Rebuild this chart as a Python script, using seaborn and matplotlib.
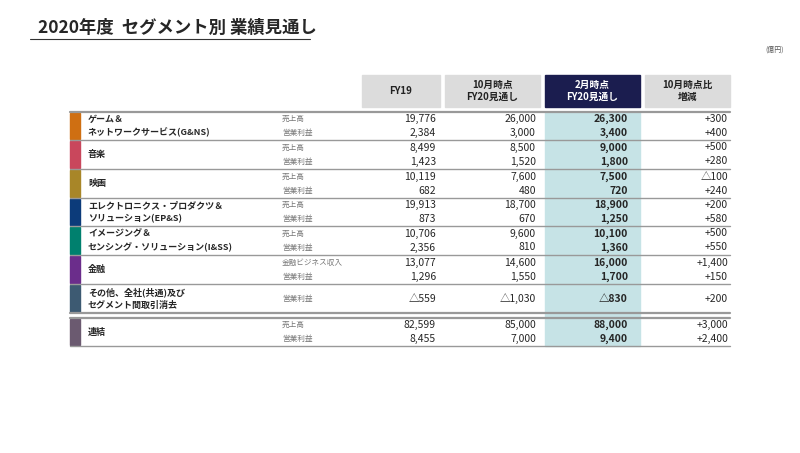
import matplotlib.pyplot as plt
from matplotlib.patches import Rectangle
import seaborn as sns

sns.set_theme(style='white', font='Noto Sans CJK JP')

title = "2020年度  セグメント別 業績見通し"
unit = "(億円)"
headers = ["FY19", "10月時点\nFY20見通し", "2月時点\nFY20見通し", "10月時点比\n増減"]
segments = ["ゲーム＆\nネットワークサービス(G&NS)", "音楽", "映画",
            "エレクトロニクス・プロダクツ＆\nソリューション(EP&S)",
            "イメージング＆\nセンシング・ソリューション(I&SS)", "金融",
            "その他、全社(共通)及び\nセグメント間取引消去", "連結"]
seg_colors = ["#cf6f12", "#c9475c", "#a88628", "#0c3b7a", "#00806e",
              "#6b2d8b", "#3d5a72", "#6b5a70"]
sub_labels = [["売上高", "営業利益"], ["売上高", "営業利益"], ["売上高", "営業利益"],
              ["売上高", "営業利益"], ["売上高", "営業利益"], ["金融ビジネス収入", "営業利益"],
              ["営業利益"], ["売上高", "営業利益"]]
fy19 = [["19,776", "2,384"], ["8,499", "1,423"], ["10,119", "682"], ["19,913", "873"],
        ["10,706", "2,356"], ["13,077", "1,296"], ["△559"], ["82,599", "8,455"]]
oct_fc = [["26,000", "3,000"], ["8,500", "1,520"], ["7,600", "480"], ["18,700", "670"],
          ["9,600", "810"], ["14,600", "1,550"], ["△1,030"], ["85,000", "7,000"]]
feb_fc = [["26,300", "3,400"], ["9,000", "1,800"], ["7,500", "720"], ["18,900", "1,250"],
          ["10,100", "1,360"], ["16,000", "1,700"], ["△830"], ["88,000", "9,400"]]
diff = [["+300", "+400"], ["+500", "+280"], ["△100", "+240"], ["+200", "+580"],
        ["+500", "+550"], ["+1,400", "+150"], ["+200"], ["+3,000", "+2,400"]]

bounds = [112, 140, 169, 198, 226, 255, 284, 313, 318, 346]

fig = plt.figure(figsize=(8, 4.53), dpi=100)
ax = fig.add_axes([0, 0, 1, 1])
ax.set_xlim(0, 800)
ax.set_ylim(453, 0)
ax.axis('off')

ax.text(38, 28, title, fontsize=12.5, fontweight='bold', va='center', ha='left')
ax.plot([30, 310], [39, 39], color='#333333', lw=0.8)
ax.text(784, 50, unit, fontsize=5, ha='right', va='center', color='#555555')

col_x = [(362, 440), (445, 540), (545, 640), (645, 730)]
for i, (h, (x0, x1)) in enumerate(zip(headers, col_x)):
    fc = '#1b1d4f' if i == 2 else '#dcdcdc'
    tc = 'white' if i == 2 else '#222222'
    ax.add_patch(Rectangle((x0, 75), x1 - x0, 32, color=fc))
    ax.text((x0 + x1) / 2, 91, h, ha='center', va='center', fontsize=7,
            fontweight='bold', color=tc, linespacing=1.3)

ax.add_patch(Rectangle((545, 112), 95, 346 - 112, color='#c6e3e6', zorder=0))

seg_tops = bounds[:7] + [318]
seg_bots = bounds[1:8] + [346]
for k, seg in enumerate(segments):
    top, bot = seg_tops[k], seg_bots[k]
    ax.add_patch(Rectangle((70, top + 1), 10, bot - top - 2, color=seg_colors[k]))
    mid = (top + bot) / 2
    ax.text(88, mid, seg, ha='left', va='center', fontsize=6.5, fontweight='bold',
            linespacing=1.5)
    n = len(sub_labels[k])
    ys = [mid] if n == 1 else [mid - 7, mid + 7]
    for j, y in enumerate(ys):
        ax.text(282, y, sub_labels[k][j], ha='left', va='center', fontsize=5.5, color='#777777')
        ax.text(436, y, fy19[k][j], ha='right', va='center', fontsize=7.5)
        ax.text(536, y, oct_fc[k][j], ha='right', va='center', fontsize=7.5)
        ax.text(628, y, feb_fc[k][j], ha='right', va='center', fontsize=7.5, fontweight='bold')
        ax.text(728, y, diff[k][j], ha='right', va='center', fontsize=7.5)

for b in bounds:
    lw = 1.6 if b in (112, 313, 318) else 1.0
    ax.plot([70, 730], [b, b], color='#999999', lw=lw)

fig.savefig('out.png', dpi=100, facecolor='white')
